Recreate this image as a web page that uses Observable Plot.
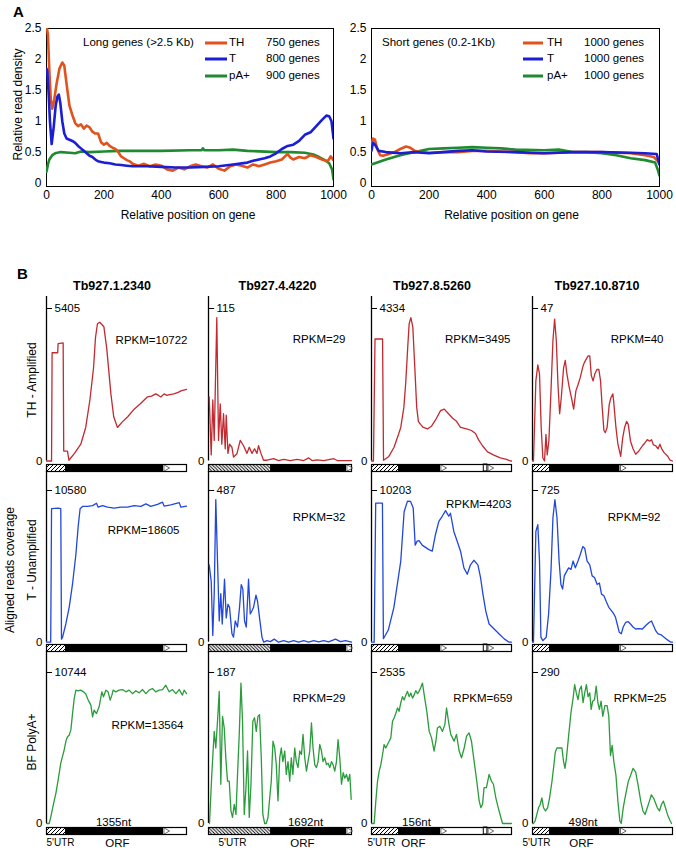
<!DOCTYPE html>
<html><head><meta charset="utf-8">
<script src="https://cdn.jsdelivr.net/npm/d3@7"></script>
<script src="https://cdn.jsdelivr.net/npm/@observablehq/plot@0.6"></script>
<style>
body{margin:0;background:#fff;}
#root{position:relative;width:676px;height:851px;font-family:"Liberation Sans",Arial,sans-serif;overflow:hidden;color:#000}
#root svg{position:absolute;overflow:visible}
</style></head><body>
<div id="root">
<svg width="0" height="0" style="position:absolute;left:0;top:0">
<defs>
<pattern id="hatchF" patternUnits="userSpaceOnUse" width="4" height="4"><rect width="4" height="4" fill="#fff"/><path d="M-1,1 L1,-1 M0,4 L4,0 M3,5 L5,3" stroke="#000" stroke-width="1"/></pattern>
<pattern id="hatchB" patternUnits="userSpaceOnUse" width="3.4" height="3.4"><rect width="3.4" height="3.4" fill="#fff"/><path d="M-1,2.4 L1,4.4 M0,0 L3.4,3.4 M2.4,-1 L4.4,1" stroke="#000" stroke-width="0.9"/></pattern>
</defs></svg>
</div>
<script>
// ---------------- Panel A data ----------------
const xTicks = [0, 200, 400, 600, 800, 1000];
const yTicks = [0, 0.5, 1, 1.5, 2, 2.5];
const seriesNames = ["TH", "T", "pA+"];
const longCounts = ["750 genes", "800 genes", "900 genes"];
const shortCounts = ["1000 genes", "1000 genes", "1000 genes"];

const longTH = [[0,2.55],[5,2.4],[10,1.8],[15,1.35],[20,1.2],[27,1.35],[35,1.6],[45,1.85],[55,1.95],[62,1.9],[70,1.6],[80,1.25],[90,1.1],[100,0.97],[110,0.92],[120,0.95],[130,0.88],[140,0.93],[150,0.9],[160,0.83],[170,0.8],[180,0.8],[190,0.66],[200,0.62],[210,0.65],[220,0.6],[230,0.57],[240,0.55],[250,0.5],[260,0.43],[270,0.4],[280,0.37],[290,0.35],[300,0.31],[320,0.28],[340,0.31],[360,0.27],[380,0.3],[400,0.28],[420,0.22],[440,0.2],[460,0.25],[480,0.22],[500,0.27],[520,0.3],[540,0.27],[560,0.25],[580,0.3],[600,0.23],[620,0.2],[640,0.27],[660,0.3],[680,0.28],[700,0.25],[720,0.3],[740,0.27],[760,0.3],[780,0.33],[800,0.35],[820,0.38],[840,0.47],[850,0.41],[860,0.38],[880,0.42],[900,0.4],[920,0.45],[940,0.42],[960,0.38],[980,0.35],[990,0.43],[1000,0.37]];
const longT = [[0,1.85],[3,1.8],[8,1.4],[12,1.0],[18,0.63],[25,0.9],[32,1.25],[38,1.4],[43,1.43],[48,1.3],[55,1.0],[62,0.8],[70,0.72],[80,0.7],[90,0.68],[100,0.65],[110,0.6],[120,0.56],[130,0.52],[140,0.48],[150,0.44],[160,0.42],[170,0.38],[180,0.35],[190,0.34],[200,0.33],[220,0.32],[240,0.3],[260,0.29],[280,0.28],[300,0.27],[350,0.27],[400,0.26],[450,0.25],[500,0.25],[550,0.26],[600,0.27],[650,0.3],[700,0.33],[720,0.36],[740,0.38],[760,0.4],[780,0.43],[800,0.48],[820,0.55],[840,0.6],[860,0.62],[880,0.68],[900,0.78],[920,0.82],[940,0.92],[960,1.02],[975,1.09],[985,1.08],[993,1.0],[1000,0.72]];
const longPA = [[0,0.18],[5,0.3],[10,0.38],[20,0.45],[30,0.48],[50,0.5],[80,0.49],[100,0.48],[120,0.51],[150,0.5],[200,0.51],[250,0.52],[300,0.52],[400,0.52],[500,0.53],[540,0.53],[545,0.56],[550,0.53],[600,0.53],[650,0.54],[700,0.52],[800,0.5],[850,0.5],[900,0.49],[930,0.46],[950,0.42],[970,0.37],[985,0.32],[995,0.22],[1000,0.06]];
const shortTH = [[0,0.6],[5,0.72],[12,0.7],[20,0.55],[30,0.45],[40,0.44],[60,0.47],[80,0.5],[100,0.55],[120,0.59],[135,0.57],[150,0.52],[170,0.5],[200,0.49],[250,0.5],[300,0.5],[350,0.52],[400,0.52],[450,0.51],[500,0.5],[550,0.48],[600,0.48],[650,0.49],[700,0.5],[750,0.5],[800,0.5],[850,0.49],[900,0.48],[950,0.45],[980,0.42],[995,0.35],[1000,0.3]];
const shortT = [[0,0.52],[5,0.65],[12,0.62],[25,0.52],[50,0.5],[100,0.48],[150,0.5],[200,0.48],[250,0.5],[300,0.52],[350,0.53],[400,0.51],[500,0.5],[600,0.48],[700,0.5],[800,0.5],[900,0.49],[950,0.48],[990,0.47],[1000,0.3]];
const shortPA = [[0,0.3],[50,0.38],[100,0.45],[150,0.5],[200,0.55],[250,0.56],[300,0.57],[350,0.58],[400,0.57],[450,0.56],[500,0.54],[600,0.53],[650,0.54],[700,0.5],[750,0.5],[800,0.48],[850,0.45],[900,0.4],[950,0.37],[985,0.33],[995,0.2],[1000,0.12]];

// ---------------- Panel B data ----------------
const geneNames = ["Tb927.1.2340", "Tb927.4.4220", "Tb927.8.5260", "Tb927.10.8710"];
const rowNames = ["TH - Amplified", "T - Unamplified", "BF PolyA+"];
const tickTH = [5405, 115, 4334, 47];
const tickT = [10580, 487, 10203, 725];
const tickPA = [10744, 187, 2535, 290];
const rpkmTH = [10722, 29, 3495, 40];
const rpkmT = [18605, 32, 4203, 92];
const rpkmPA = [13564, 29, 659, 25];
const geneLength = ["1355nt", "1692nt", "156nt", "498nt"];
// gene structure, % of the drawn bar
const utr5End = [13.6, 43.4, 19.3, 12.1];
const orfEnd = [83.6, 96.5, 49.3, 62.6];
const hatchKind = ["hatchF", "hatchB", "hatchF", "hatchF"];
const extraBreak = [null, null, [80.2, 82.8], null];

// coverage traces: [position % along gene bar, coverage % of labelled max]
const thG1 = [[0,0],[3.6,0],[4,71],[8,71],[8.3,77],[11.9,77.5],[12.3,6.5],[15,6.5],[16,0.5],[20,5],[24.5,11],[28,22],[31,40],[33.6,61],[35,81],[36.4,90],[38,91],[41,88],[43,74],[46,44],[48,29],[50.7,22],[54,25.5],[58,29],[62.6,34],[67,37.5],[72,42],[75,42.5],[78,44],[80,43],[81.7,42],[84,44],[86,43],[88,43.5],[91,44],[94,45],[96,46],[100,47]];
const thG2 = [[0.5,42],[1.9,4],[3,40],[4,13.5],[5.8,94],[7,13.5],[8.2,37.5],[9.3,11],[10.5,31],[11.7,8],[12.4,30],[13.6,5],[14.7,11],[16.4,9],[17.5,2.6],[19.9,4.8],[22.2,13.5],[24.5,10],[26.9,5],[28.5,9],[30.4,5],[32.2,8],[33.9,5],[35,10],[36.7,5],[38.5,0.5],[40.9,0.5],[45.6,1.5],[49,0.3],[52.6,1],[57.2,0.3],[61.9,1],[66.6,0.3],[70.1,2],[72.4,0.3],[75.9,0.8],[80.6,0.3],[87.6,1.5],[90,0.3],[94.6,0.3],[100,0.3]];
const thG3 = [[0,0],[1.4,0],[2.5,80],[7.9,80],[8.6,0.5],[12.4,3],[16.1,9],[19.5,18],[20.9,22],[23.1,35],[24.5,52],[25.9,75],[26.9,90],[28.1,94],[29.5,88],[30.9,62],[32.3,35],[33.5,26],[35,24],[37,22],[40,21],[43,23],[46.4,28],[49.3,33],[52,34],[55,31],[58,28],[60.7,26],[63.6,22],[67.9,21],[71.4,20],[74.3,18],[76.4,14],[79.3,10],[82.9,6],[87,4],[92,2],[96.4,1],[99.3,0],[100,0]];
const thG4 = [[0,0],[0.7,0],[2.4,52.5],[3.8,63],[5,57],[6.2,22],[7.4,2],[8.6,0],[9.6,17.5],[10.5,4],[11.7,13],[13.2,46],[14.6,79],[15.8,93],[17,79],[18.2,50],[19.4,31],[20.6,42],[22.2,61],[23.4,66],[24.6,57],[26.3,48],[27.8,41.5],[29.4,34],[31,46],[32.5,50],[34.2,55],[36,62],[37,64.5],[38.5,67],[39.7,69],[40.9,69],[42,56],[43.3,52.5],[44.5,57],[46,60],[47.4,60],[48.6,52.5],[49.8,35],[51,20],[52,18.6],[53.3,22],[54.8,37],[56,41.5],[57.4,44],[58,39],[59.6,22],[61,11],[63,3],[64.4,15],[65.8,22],[67.2,26],[68.4,24],[70,13],[71.8,8],[73.7,4.4],[76,6.6],[78.5,10],[80.4,12],[82,14],[83.7,13],[85,14],[86.4,10.5],[88,10],[89.7,8],[91,11],[92.3,8],[94,5.5],[96.4,3.3],[98.3,0.5],[100,0]];
const tG1 = [[0,0],[3,0],[3.6,88],[8.3,88.4],[10.2,88],[10.7,2],[11.4,3],[13.8,12],[16.2,23],[18.6,38.5],[21,58],[22.6,76],[24,88],[25.7,89.5],[29.3,89.5],[32.9,90],[35.7,91.6],[36.9,89],[40,90],[43.6,89],[48.3,88.4],[53,89],[57.9,89],[62.6,90],[67.4,89.5],[71,91.2],[74.5,89.5],[79.3,90.8],[82.9,92.3],[84,89.7],[88.8,90.5],[94.8,92],[96,89],[100,89.7]];
const tG2 = [[0.5,51],[1.9,40],[3,4.4],[4,32],[5.1,94],[6.3,53.5],[7.5,14],[8.6,32],[9.6,12],[11.2,41.5],[12.4,16],[13.6,25],[14.7,23],[16.4,5.5],[17.5,3.3],[18.7,14],[20.3,10],[21.7,23],[22.9,38],[24,35],[25.2,14],[26.4,10],[28,41.5],[29.2,18.6],[30.4,20.7],[31.5,23],[33.2,31],[34.3,27],[35.7,16],[37.4,3.3],[38.6,0],[40.9,1],[43.2,0.4],[46,2],[49,0],[52.6,1],[56,0],[59.6,1],[63,0],[66.6,1],[70,0],[73.6,1],[77,0.2],[80.6,1],[84,0.2],[88.8,2],[92.3,0.4],[95.8,1],[100,0]];
const tG3 = [[0,0],[1.9,0],[3,91.7],[7.8,91.7],[8.5,2.3],[12,8],[16,23],[20.9,53.5],[23.3,86],[25.7,93],[27.9,92.8],[29.8,88.4],[31.2,64],[32.6,66.6],[34,67],[36.2,64],[38.6,62.5],[41,61],[43.4,60],[45.7,71],[48.1,79.7],[50.5,83],[52.9,86.7],[55.2,83],[56.4,85],[58.8,73],[61.2,66.6],[63.6,60],[66,49],[68.4,44.8],[70.7,51],[73.1,54],[76,51],[77.9,42.5],[79.6,31.7],[81.6,20.7],[84,12],[87.6,8.7],[91.2,5.4],[94.8,2.2],[98.3,0],[100,0]];
const tG4 = [[0,0],[0.7,0],[2.4,73],[3.8,77.5],[5,53.5],[6,3.3],[7.4,1],[9.8,3.3],[11.5,18.6],[13.2,47],[14.6,82],[16,94],[17.5,82],[19,53.5],[20.3,38],[21.5,35],[22.7,43.7],[24.6,47],[25.8,49],[27.5,48],[29,53.5],[30.6,49],[32.5,53.5],[34.2,58],[35.9,63],[37.3,62],[39,53.5],[40.9,51],[42.6,43.7],[44.3,42.6],[46.2,38],[47.8,39],[49.3,31.7],[51,30.6],[52.6,27],[54.5,23],[56.5,20.7],[58.1,18.6],[59.3,16.4],[60.5,12],[62,6.5],[63.4,5.5],[64.8,10],[66.5,13],[68.4,13.5],[70,12],[71.8,10],[73.7,8.7],[76,9],[78.5,8.7],[80.9,11],[83.3,13],[85,14],[86.4,11],[88,7.6],[89.7,5.5],[91.6,5],[94,3.3],[96.4,1.5],[98.8,0],[100,0]];
const paG1 = [[0,0],[1.9,0],[3.1,4.4],[5,13],[6.7,20],[8.3,28.7],[10.2,40],[12.6,48.6],[14,55],[15,57.4],[16.2,58.5],[17.4,62],[18.6,72.8],[19.8,82.8],[21,88.3],[22.6,87.9],[24.5,88.3],[26.4,87.2],[28,86],[29.8,81.7],[31.7,78.4],[32.9,70.6],[34,75],[35.7,72.8],[37.6,77.3],[39.5,87.2],[40.7,83.9],[42.4,88.3],[44,87.2],[45.5,81.7],[46.7,85],[47.6,88.3],[49.5,87.2],[51.9,88.3],[54.3,88.7],[56.7,87.2],[59,88.3],[61.4,86],[63.8,87.9],[66.2,86.5],[68.6,88.7],[71,86],[73.3,88.3],[75.7,89.4],[78,87.2],[80.5,88.3],[82.9,88.7],[85.2,91.6],[87.6,87.2],[90,88.7],[92.4,86],[94.8,88.7],[97.1,85],[98.3,88.3],[100,86]];
const paG2 = [[0.7,0],[2.3,32.5],[4,61],[5.1,50],[6.3,67.7],[7.5,87.5],[8.6,26],[9.8,71],[11,63.3],[12.1,43.5],[13.3,28],[14.5,28],[15.7,8.4],[16.8,4],[18,12.7],[19.2,6],[20.3,32.5],[21.5,59],[22.7,93],[23.8,67.7],[25,6],[26.2,23.7],[27.3,48],[28.5,4],[29.7,26],[31,67.7],[32.2,70],[33.4,61],[34.6,71],[35.7,72],[36.9,43.5],[38,6],[39.3,0],[40.4,0],[41.6,4],[42.8,17],[43.9,28],[45.1,54.5],[46.3,50],[47.4,39],[48.6,15],[49.8,43.5],[50.9,50],[52,41],[53.3,48],[54.4,32.5],[55.6,41],[56.8,28],[57.9,43.5],[59,32.5],[60.3,50],[61.4,41],[62.6,37],[63.8,48],[65,45.7],[66.1,59],[67.3,43.5],[68.5,34.7],[69.6,41],[70.8,48],[72,66.6],[73.1,50],[74.3,39],[75.5,37],[76.6,41],[77.8,52.3],[79,48],[80.1,41],[81.3,43.5],[82.5,39],[83.6,40],[84.8,37],[86,41],[87.1,39],[88.3,34.7],[89.5,41],[90.6,55.6],[91.8,43.5],[93,26],[94.2,33.6],[95.3,30],[96.5,32.5],[97.7,28],[98.8,32.5],[99.8,16]];
const paG3 = [[0,0],[1.9,0],[3.1,15],[4.3,28],[5.5,34.7],[6.7,39],[7.9,45.7],[9,52.3],[10.2,50],[11.4,52.3],[12.6,54.5],[13.8,56.7],[15,67.7],[16.2,70],[17.4,73],[18.6,76.5],[19.7,74.3],[20.9,79.8],[22.1,84],[23.3,81.8],[24.5,85],[25.7,87.5],[26.9,84],[28.1,86.4],[29.3,83],[30.4,85],[31.6,88],[32.9,86],[34,87.5],[35.2,90],[36.4,93],[38,83],[39.5,74.3],[41.2,61],[42.9,56.7],[44.7,48],[46,54.5],[47.1,63.3],[48.8,64.4],[50.7,61],[52.4,65.5],[53.6,76.5],[55,67.7],[56.6,59],[57.9,56.7],[59,54.5],[60.7,59],[62.6,48],[64.3,43.5],[66.2,50],[67.9,57.8],[69.7,60],[71.4,54.5],[73.3,41.3],[75.2,28],[76.9,15],[78.1,10.5],[79.3,12.7],[80.4,23.7],[82.1,23.7],[84,32.5],[85.7,28],[87.1,26],[88.8,17],[90.5,10.5],[92.4,4],[93.6,0],[95.9,0],[100,0]];
const paG4 = [[0,0],[0.7,0],[1.9,1.7],[3.1,6],[4.3,10.4],[5.5,12.6],[6.7,17],[7.9,10.4],[9.3,8.3],[10.8,10.4],[12.2,17],[13.9,27.8],[15,36.5],[16.3,47.4],[17.5,50],[19.4,50],[21,50],[22.2,41],[23.2,36.5],[24.2,43],[25.8,58],[27.5,73.5],[29,83],[30.1,92],[31.3,86.5],[32.5,82],[33.7,88.7],[34.9,91],[36.1,80],[37.3,86.5],[38.5,92],[39.7,84],[40.9,86.5],[41.9,75.6],[43,81],[44.3,82],[45.5,91],[46.7,80],[47.8,75.6],[49,81],[50.2,71],[51.7,78],[53.3,78],[54.5,71],[55.7,45],[56.9,51.7],[58.1,41],[59.6,32],[61,14.8],[62.4,1.7],[63.4,0],[64.8,10.4],[66.5,19],[68.4,27.8],[70.1,32],[71.8,36.5],[73.7,34],[75.4,25.6],[77.3,14.8],[78.9,8.3],[80.4,6],[82,10.4],[83.5,14.8],[84.9,19],[86.4,17],[87.8,13.7],[89.2,10.4],[90.7,8.3],[92.1,12.6],[93.5,14.8],[95,10.4],[96.4,6],[97.8,2.8],[99.3,0]];

// ---------------- layout ----------------
const FONT = "'Liberation Sans', Arial, sans-serif";
const colA = {TH: "#e2521c", T: "#1c1ed4", PA: "#1f8a2f"};
const colB = ["#c22a30", "#2147dc", "#2a9c3c"];
const colX0 = [46, 208, 371, 532];
const colX1 = [186, 351, 511, 672];
const rowTop = [296, 471, 651];
const rowTick = [308, 490, 672];
const rowZero = [460.5, 641.7, 823];
const barTop = [463.5, 643.5, 827];
const barH = 7;

const root = document.getElementById("root");
function put(el, x, y) { el.style.left = x + "px"; el.style.top = y + "px"; root.appendChild(el); }
function label(txt, x, y, o = {}) {
  const d = document.createElement("div");
  d.textContent = txt;
  const ax = o.anchor === "start" ? "0" : o.anchor === "end" ? "-100%" : "-50%";
  d.style.cssText = `position:absolute;white-space:nowrap;line-height:1;font-size:${o.size || 12}px;font-weight:${o.weight || 400};transform:translate(${ax},-50%) rotate(${o.rotate || 0}deg);`;
  put(d, x, y);
}
function swatch(color, x, y, w) {
  const d = document.createElement("div");
  d.style.cssText = `position:absolute;width:${w}px;height:3px;background:${color};transform:translateY(-50%)`;
  put(d, x, y);
}

// ---------------- Panel A ----------------
function densityChart(o) {
  const marks = [
    Plot.frame({stroke: "#000", strokeWidth: 1}),
    ...o.series.map(s => Plot.line(s.data, {x: d => d[0], y: d => d[1], stroke: s.color, strokeWidth: 2.6, clip: true})),
    Plot.text(["Relative position on gene"], {frameAnchor: "bottom", textAnchor: "middle", lineAnchor: "middle", dy: 29, dx: o.xLabelDx})
  ];
  if (o.yLabel) marks.push(Plot.text(["Relative read density"], {frameAnchor: "left", textAnchor: "middle", lineAnchor: "middle", rotate: -90, dx: -28, dy: -3}));
  const svg = Plot.plot({
    width: o.width, height: 225,
    marginLeft: o.frameL - o.left, marginRight: o.left + o.width - o.frameR, marginTop: 28, marginBottom: 39,
    x: {domain: [0, 1000], ticks: xTicks, tickSize: 0, tickPadding: 4, tickFormat: d => String(d), label: null},
    y: {domain: [-0.057, 2.5], ticks: yTicks, tickSize: 0, tickPadding: 5, tickFormat: d => String(d), label: null},
    style: {font: `12px ${FONT}`, background: "none", overflow: "visible"},
    marks
  });
  put(svg, o.left, 0);
  // in-plot legend
  label(o.title, o.titleX, 43, {anchor: "start", size: 11.5});
  const ys = [43, 58.5, 76];
  const colors = [colA.TH, colA.T, colA.PA];
  seriesNames.forEach((n, i) => {
    swatch(colors[i], o.lineX, ys[i], o.lineW);
    label(n, o.nameX, ys[i], {anchor: "start", size: 11.5});
    label(o.counts[i], o.countX, ys[i], {anchor: "start", size: 11.5});
  });
}
densityChart({left: 0, width: 340, frameL: 46, frameR: 333, xLabelDx: -2, yLabel: true,
  series: [{data: longPA, color: colA.PA}, {data: longTH, color: colA.TH}, {data: longT, color: colA.T}],
  title: "Long genes (>2.5 Kb)", titleX: 83, lineX: 205, lineW: 22, nameX: 229, countX: 266, counts: longCounts});
densityChart({left: 340, width: 336, frameL: 371, frameR: 659, xLabelDx: -4, yLabel: false,
  series: [{data: shortPA, color: colA.PA}, {data: shortTH, color: colA.TH}, {data: shortT, color: colA.T}],
  title: "Short genes (0.2-1Kb)", titleX: 382, lineX: 523, lineW: 20, nameX: 547, countX: 584, counts: shortCounts});
label("A", 13, 11, {anchor: "start", size: 15, weight: 700});

// ---------------- Panel B ----------------
label("B", 17, 273, {anchor: "start", size: 15, weight: 700});
const titleX = [112, 277.5, 432, 597];
geneNames.forEach((g, c) => label(g, titleX[c], 286, {size: 12.5, weight: 700}));
label("Aligned reads coverage", 10, 570, {rotate: -90, size: 12});
const rowLabelY = [380, 560, 742];
rowNames.forEach((r, i) => label(r, 31.5, rowLabelY[i], {rotate: -90, size: 12}));

const traces = [[thG1, thG2, thG3, thG4], [tG1, tG2, tG3, tG4], [paG1, paG2, paG3, paG4]];
const ticks = [tickTH, tickT, tickPA];
const rpkms = [rpkmTH, rpkmT, rpkmPA];
// RPKM label offsets [dx from frame right, dy from frame top]
const rpkmPos = [
  [[1, 44], [-6, 43], [-1, 43], [-9, 43]],
  [[-7, 59], [-6, 46], [0, 33], [-12, 46]],
  [[-3, 74], [-6, 47], [1, 47], [-6, 47]]
];

for (let r = 0; r < 3; r++) {
  for (let c = 0; c < 4; c++) {
    const top = rowTop[r], zero = rowZero[r], tickY = rowTick[r];
    const tick = ticks[r][c];
    const yMax = tick * (zero - top) / (zero - tickY);
    const w = colX1[c] - colX0[c];
    const svg = Plot.plot({
      width: w + 36, height: zero - top + 2,
      marginLeft: 30, marginRight: 6, marginTop: 0, marginBottom: 2,
      x: {domain: [0, 100], axis: null},
      y: {domain: [0, yMax], axis: null},
      style: {font: `11.5px ${FONT}`, background: "none", overflow: "visible"},
      marks: [
        Plot.ruleX([0], {stroke: "#000", strokeWidth: 1.3}),
        Plot.ruleY([tick], {x1: 0, x2: 4.3, stroke: "#000", strokeWidth: 1}),
        Plot.text([tick], {x: 0, y: d => d, dx: 8, textAnchor: "start", text: d => String(d)}),
        Plot.text([0], {x: 0, y: d => d, dx: -4, textAnchor: "end", text: d => String(d)}),
        Plot.line(traces[r][c], {x: d => d[0], y: d => d[1] * tick / 100, stroke: colB[r], strokeWidth: 1.3}),
        Plot.text(["RPKM=" + rpkms[r][c]], {frameAnchor: "top-right", textAnchor: "end", lineAnchor: "middle", dx: rpkmPos[r][c][0], dy: rpkmPos[r][c][1]})
      ]
    });
    put(svg, colX0[c] - 30, top);

    // gene structure bar
    const segs = [
      {a: 0, b: utr5End[c], fill: `url(#${hatchKind[c]})`},
      {a: utr5End[c], b: orfEnd[c], fill: "#000"},
      {a: orfEnd[c], b: 100, fill: "#fff"}
    ];
    const barMarks = segs.map(s => Plot.rect([s], {x1: "a", x2: "b", y1: 0, y2: 1, fill: s.fill}));
    const arrows = [orfEnd[c] + 1.6];
    if (extraBreak[c]) {
      barMarks.push(Plot.rect([extraBreak[c]], {x1: d => d[0], x2: d => d[1], y1: 0, y2: 1, fill: "#fff", stroke: "#000", strokeWidth: 1}));
      arrows.push(extraBreak[c][1] + 1.8);
    }
    barMarks.push(Plot.frame({stroke: "#000", strokeWidth: 1.2}));
    barMarks.push(Plot.dot(arrows, {x: d => d, symbol: "triangle", rotate: 90, r: 2.4, fill: "#fff", stroke: "#000", strokeWidth: 0.6}));
    if (r === 2) {
      const ntDx = [67, 97, 45, 50.5], utrDx = [0, 10, -4, -10], orfDx = [71, 94, 42, 49];
      barMarks.push(Plot.text([geneLength[c]], {frameAnchor: "top-left", dx: ntDx[c], dy: -5, textAnchor: "middle", lineAnchor: "middle", fontSize: 11.5}));
      barMarks.push(Plot.text(["5'UTR"], {frameAnchor: "bottom-left", dx: utrDx[c], dy: 8, textAnchor: "start", lineAnchor: "middle", fontSize: 10}));
      barMarks.push(Plot.text(["ORF"], {frameAnchor: "bottom-left", dx: orfDx[c], dy: 9, textAnchor: "middle", lineAnchor: "middle", fontSize: 11.5}));
    }
    const bar = Plot.plot({
      width: w, height: barH, margin: 0,
      x: {domain: [0, 100], axis: null},
      y: {domain: [0, 1], axis: null},
      style: {font: `11.5px ${FONT}`, background: "none", overflow: "visible"},
      marks: barMarks
    });
    put(bar, colX0[c], barTop[r]);
  }
}
</script></body></html>
